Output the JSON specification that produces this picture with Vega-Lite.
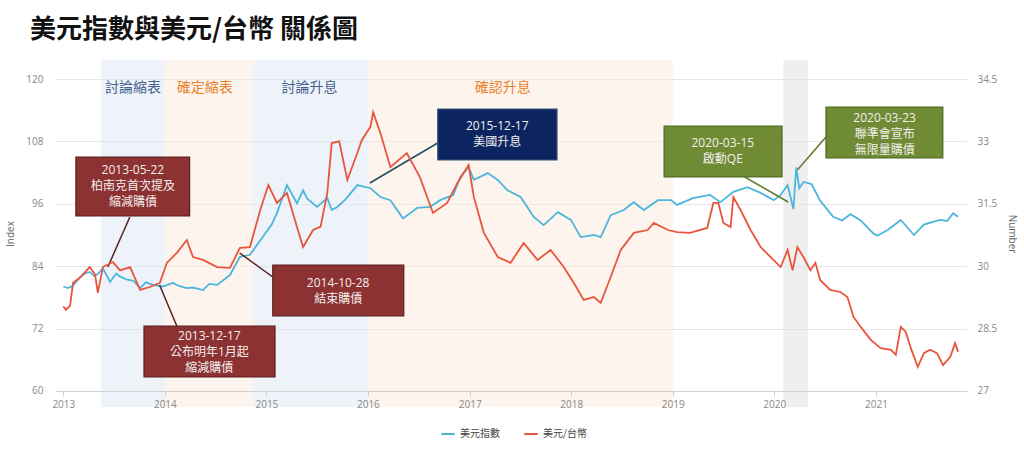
{
  "$schema": "https://vega.github.io/schema/vega-lite/v6.json",
  "autosize": {"type": "none"},
  "width": 912,
  "height": 347,
  "padding": {"left": 55, "top": 60, "right": 57, "bottom": 44},
  "background": "white",
  "title": {
    "text": "美元指數與美元/台幣 關係圖",
    "anchor": "start",
    "frame": "group",
    "dx": -25,
    "offset": 17,
    "font": "Noto Sans CJK TC",
    "fontSize": 26,
    "fontWeight": "bold",
    "color": "#111"
  },
  "config": {
    "view": {"stroke": null},
    "font": "Open Sans, Noto Sans CJK TC",
    "axis": {"labelFont": "Open Sans", "labelColor": "#888", "labelFontSize": 10, "titleFont": "Open Sans", "titleColor": "#666", "titleFontSize": 10, "titleFontWeight": "normal"}
  },
  "datasets": {
    "phases": [
      {"start": "2013-05-16", "end": "2014-01-01", "group": "討論"},
      {"start": "2014-01-01", "end": "2014-11-16", "group": "確定"},
      {"start": "2014-11-16", "end": "2016-01-01", "group": "討論"},
      {"start": "2016-01-01", "end": "2019-01-01", "group": "確定"},
      {"start": "2020-02-03", "end": "2020-05-01", "group": "疫情"}
    ],
    "phase_labels": [
      {"date": "2013-09-08", "label": "討論縮表", "group": "討論"},
      {"date": "2014-05-24", "label": "確定縮表", "group": "確定"},
      {"date": "2015-06-05", "label": "討論升息", "group": "討論"},
      {"date": "2017-04-30", "label": "確認升息", "group": "確定"}
    ],
    "events": [
      {"label": "2013-05-22\n柏南克首次提及\n縮減購債", "kind": "qe", "box_start": "2013-02-15", "box_end": "2014-03-31", "box_top": 105.0, "box_bottom": 93.65, "text_date": "2013-09-08", "text_value": 102.5, "line_date": "2013-08-28", "line_value": 93.46, "point_date": "2013-06-10", "point_value": 83.85},
      {"label": "2013-12-17\n公布明年1月起\n縮減購債", "kind": "qe", "box_start": "2013-10-18", "box_end": "2015-02-01", "box_top": 72.5, "box_bottom": 62.69, "text_date": "2014-06-10", "text_value": 70.58, "line_date": "2014-02-13", "line_value": 72.5, "point_date": "2013-12-13", "point_value": 80.38},
      {"label": "2014-10-28\n結束購債", "kind": "qe", "box_start": "2015-01-24", "box_end": "2016-05-09", "box_top": 84.23, "box_bottom": 74.42, "text_date": "2015-09-16", "text_value": 80.83, "line_date": "2015-01-24", "line_value": 81.92, "point_date": "2014-09-27", "point_value": 86.54},
      {"label": "2015-12-17\n美國升息", "kind": "hike", "box_start": "2016-09-08", "box_end": "2017-11-11", "box_top": 114.23, "box_bottom": 104.42, "text_date": "2017-04-10", "text_value": 111.0, "line_date": "2016-09-08", "line_value": 107.69, "point_date": "2016-01-08", "point_value": 100.0},
      {"label": "2020-03-15\n啟動QE", "kind": "covid", "box_start": "2018-12-01", "box_end": "2020-01-29", "box_top": 110.96, "box_bottom": 101.15, "text_date": "2019-06-30", "text_value": 107.63, "line_date": "2019-09-17", "line_value": 101.15, "point_date": "2020-02-20", "point_value": 96.35},
      {"label": "2020-03-23\n聯準會宣布\n無限量購債", "kind": "covid", "box_start": "2020-07-05", "box_end": "2021-08-29", "box_top": 114.62, "box_bottom": 104.81, "text_date": "2021-02-01", "text_value": 112.44, "line_date": "2020-07-05", "line_value": 108.85, "point_date": "2020-03-24", "point_value": 102.5}
    ],
    "dxy": [
      {"date": "2013-01-01", "value": 80.1}, {"date": "2013-01-18", "value": 79.8}, {"date": "2013-02-05", "value": 80.3},
      {"date": "2013-03-01", "value": 81.8}, {"date": "2013-03-20", "value": 82.6}, {"date": "2013-04-06", "value": 82.9},
      {"date": "2013-04-22", "value": 82.1}, {"date": "2013-05-05", "value": 82.5},
      {"date": "2013-05-23", "value": 83.6}, {"date": "2013-06-18", "value": 81.0}, {"date": "2013-07-10", "value": 82.6},
      {"date": "2013-07-24", "value": 82.0}, {"date": "2013-08-19", "value": 81.4}, {"date": "2013-09-10", "value": 81.2},
      {"date": "2013-10-04", "value": 79.8}, {"date": "2013-10-25", "value": 80.9}, {"date": "2013-11-18", "value": 80.4},
      {"date": "2013-12-24", "value": 80.1},
      {"date": "2014-01-30", "value": 80.8}, {"date": "2014-02-20", "value": 80.2}, {"date": "2014-03-21", "value": 79.8},
      {"date": "2014-04-12", "value": 79.9}, {"date": "2014-05-18", "value": 79.4}, {"date": "2014-06-10", "value": 80.6},
      {"date": "2014-07-08", "value": 80.4}, {"date": "2014-08-23", "value": 82.3},
      {"date": "2014-09-28", "value": 85.8}, {"date": "2014-11-03", "value": 86.2}, {"date": "2014-12-20", "value": 89.7},
      {"date": "2015-01-20", "value": 92.0}, {"date": "2015-02-08", "value": 94.2}, {"date": "2015-03-16", "value": 99.6},
      {"date": "2015-04-21", "value": 96.1}, {"date": "2015-05-13", "value": 98.6}, {"date": "2015-05-28", "value": 97.0},
      {"date": "2015-07-02", "value": 95.4}, {"date": "2015-08-08", "value": 97.1}, {"date": "2015-08-24", "value": 94.8},
      {"date": "2015-09-13", "value": 95.4}, {"date": "2015-10-15", "value": 97.0}, {"date": "2015-11-24", "value": 99.6},
      {"date": "2016-01-10", "value": 99.0}, {"date": "2016-02-15", "value": 97.3}, {"date": "2016-03-22", "value": 96.7},
      {"date": "2016-05-06", "value": 93.2}, {"date": "2016-06-26", "value": 95.2}, {"date": "2016-08-11", "value": 95.4},
      {"date": "2016-09-17", "value": 96.7}, {"date": "2016-11-03", "value": 97.7}, {"date": "2016-11-29", "value": 101.2},
      {"date": "2016-12-28", "value": 103.1}, {"date": "2017-01-16", "value": 100.6}, {"date": "2017-03-07", "value": 101.9},
      {"date": "2017-04-12", "value": 100.6}, {"date": "2017-05-17", "value": 98.6}, {"date": "2017-07-03", "value": 97.3},
      {"date": "2017-08-19", "value": 93.5}, {"date": "2017-09-24", "value": 91.9}, {"date": "2017-11-14", "value": 94.4},
      {"date": "2017-12-31", "value": 92.9}, {"date": "2018-02-04", "value": 89.6}, {"date": "2018-03-23", "value": 90.0},
      {"date": "2018-04-17", "value": 89.6}, {"date": "2018-05-23", "value": 93.8}, {"date": "2018-07-09", "value": 94.8},
      {"date": "2018-08-14", "value": 96.3}, {"date": "2018-09-19", "value": 94.8}, {"date": "2018-11-09", "value": 96.7},
      {"date": "2018-12-26", "value": 96.7}, {"date": "2019-01-16", "value": 95.8}, {"date": "2019-03-15", "value": 97.1},
      {"date": "2019-05-16", "value": 97.7}, {"date": "2019-06-21", "value": 96.3}, {"date": "2019-08-07", "value": 98.3},
      {"date": "2019-09-27", "value": 99.2}, {"date": "2019-11-13", "value": 98.1}, {"date": "2019-12-30", "value": 96.7},
      {"date": "2020-01-24", "value": 97.7}, {"date": "2020-02-18", "value": 99.6}, {"date": "2020-03-10", "value": 95.0},
      {"date": "2020-03-20", "value": 103.0}, {"date": "2020-03-31", "value": 99.0}, {"date": "2020-04-15", "value": 100.2},
      {"date": "2020-05-14", "value": 99.8},
      {"date": "2020-06-14", "value": 96.6}, {"date": "2020-07-31", "value": 93.5}, {"date": "2020-09-01", "value": 92.8},
      {"date": "2020-10-01", "value": 94.0}, {"date": "2020-11-07", "value": 92.8}, {"date": "2020-12-24", "value": 90.2},
      {"date": "2021-01-07", "value": 89.9}, {"date": "2021-02-13", "value": 91.0}, {"date": "2021-03-31", "value": 92.9},
      {"date": "2021-05-17", "value": 90.0}, {"date": "2021-06-22", "value": 92.0}, {"date": "2021-08-19", "value": 92.9},
      {"date": "2021-09-14", "value": 92.7}, {"date": "2021-10-05", "value": 94.2}, {"date": "2021-10-23", "value": 93.5}
    ],
    "twd": [
      {"date": "2013-01-01", "value": 29.03}, {"date": "2013-01-10", "value": 28.95}, {"date": "2013-01-25", "value": 29.05},
      {"date": "2013-02-05", "value": 29.6}, {"date": "2013-03-01", "value": 29.72}, {"date": "2013-04-06", "value": 29.98},
      {"date": "2013-04-25", "value": 29.8}, {"date": "2013-05-05", "value": 29.36}, {"date": "2013-05-23", "value": 29.98},
      {"date": "2013-06-28", "value": 30.1}, {"date": "2013-07-24", "value": 29.9}, {"date": "2013-08-29", "value": 29.98},
      {"date": "2013-10-04", "value": 29.43}, {"date": "2013-11-08", "value": 29.5}, {"date": "2013-12-14", "value": 29.6},
      {"date": "2014-01-08", "value": 30.08}, {"date": "2014-02-13", "value": 30.32}, {"date": "2014-03-21", "value": 30.63},
      {"date": "2014-04-12", "value": 30.22}, {"date": "2014-05-18", "value": 30.15}, {"date": "2014-07-08", "value": 29.98},
      {"date": "2014-08-23", "value": 29.96}, {"date": "2014-09-28", "value": 30.44}, {"date": "2014-11-03", "value": 30.46},
      {"date": "2014-12-10", "value": 31.35}, {"date": "2015-01-08", "value": 31.95}, {"date": "2015-02-08", "value": 31.52},
      {"date": "2015-03-16", "value": 31.76}, {"date": "2015-04-21", "value": 30.94}, {"date": "2015-05-13", "value": 30.46},
      {"date": "2015-06-18", "value": 30.87}, {"date": "2015-07-15", "value": 30.95}, {"date": "2015-08-08", "value": 31.76},
      {"date": "2015-08-24", "value": 32.96}, {"date": "2015-09-20", "value": 33.0}, {"date": "2015-10-19", "value": 32.07},
      {"date": "2015-11-24", "value": 32.72}, {"date": "2015-12-10", "value": 33.03}, {"date": "2016-01-10", "value": 33.35},
      {"date": "2016-01-20", "value": 33.7}, {"date": "2016-02-15", "value": 33.2}, {"date": "2016-03-22", "value": 32.38},
      {"date": "2016-05-20", "value": 32.72}, {"date": "2016-07-06", "value": 32.14}, {"date": "2016-08-22", "value": 31.28},
      {"date": "2016-10-12", "value": 31.52}, {"date": "2016-11-18", "value": 32.0}, {"date": "2016-12-28", "value": 32.43},
      {"date": "2017-01-16", "value": 31.66}, {"date": "2017-02-21", "value": 30.8}, {"date": "2017-04-12", "value": 30.22},
      {"date": "2017-05-28", "value": 30.08}, {"date": "2017-07-14", "value": 30.56}, {"date": "2017-09-02", "value": 30.15},
      {"date": "2017-10-19", "value": 30.39}, {"date": "2017-12-05", "value": 29.98}, {"date": "2018-01-10", "value": 29.6},
      {"date": "2018-02-15", "value": 29.19}, {"date": "2018-03-23", "value": 29.26}, {"date": "2018-04-17", "value": 29.12},
      {"date": "2018-05-23", "value": 29.74}, {"date": "2018-06-28", "value": 30.39}, {"date": "2018-08-14", "value": 30.8},
      {"date": "2018-10-03", "value": 30.87}, {"date": "2018-10-25", "value": 31.04}, {"date": "2018-12-15", "value": 30.87},
      {"date": "2019-01-16", "value": 30.82}, {"date": "2019-03-04", "value": 30.8}, {"date": "2019-05-05", "value": 30.92},
      {"date": "2019-05-27", "value": 31.52}, {"date": "2019-06-14", "value": 31.52}, {"date": "2019-07-02", "value": 31.04},
      {"date": "2019-07-28", "value": 30.94}, {"date": "2019-08-07", "value": 31.66}, {"date": "2019-09-02", "value": 31.35},
      {"date": "2019-10-08", "value": 30.87}, {"date": "2019-11-13", "value": 30.46}, {"date": "2019-12-19", "value": 30.22},
      {"date": "2020-01-24", "value": 29.98}, {"date": "2020-02-18", "value": 30.39}, {"date": "2020-03-07", "value": 29.9},
      {"date": "2020-03-24", "value": 30.46}, {"date": "2020-04-15", "value": 30.22}, {"date": "2020-05-10", "value": 29.9},
      {"date": "2020-05-28", "value": 30.08}, {"date": "2020-06-14", "value": 29.67}, {"date": "2020-07-20", "value": 29.43},
      {"date": "2020-08-26", "value": 29.38}, {"date": "2020-09-20", "value": 29.26}, {"date": "2020-10-12", "value": 28.78},
      {"date": "2020-11-07", "value": 28.54}, {"date": "2020-12-13", "value": 28.23}, {"date": "2021-01-18", "value": 28.03},
      {"date": "2021-02-24", "value": 27.99}, {"date": "2021-03-13", "value": 27.87}, {"date": "2021-03-31", "value": 28.54},
      {"date": "2021-04-18", "value": 28.42}, {"date": "2021-05-06", "value": 28.03}, {"date": "2021-05-31", "value": 27.58},
      {"date": "2021-06-22", "value": 27.91}, {"date": "2021-07-14", "value": 27.99}, {"date": "2021-08-08", "value": 27.91},
      {"date": "2021-08-30", "value": 27.62}, {"date": "2021-09-25", "value": 27.82}, {"date": "2021-10-12", "value": 28.15},
      {"date": "2021-10-23", "value": 27.94}
    ]
  },
  "layer": [
    {
      "layer": [
        {
          "data": {"name": "phases"},
          "mark": {"type": "rect", "opacity": 0.5},
          "encoding": {
            "x": {
              "field": "start", "type": "temporal", "title": null,
              "scale": {"domain": [{"year": 2012, "month": 12, "date": 2}, {"year": 2021, "month": 11, "date": 24}]},
              "axis": {"format": "%Y", "tickCount": {"interval": "year"}, "grid": false, "domain": true, "domainColor": "#d0d0d0", "ticks": true, "tickColor": "#d0d0d0", "tickSize": 5, "labelPadding": 3, "offset": -16, "zindex": 1}
            },
            "x2": {"field": "end"},
            "color": {
              "condition": [
                {"test": "datum.group === '討論'", "value": "#dce7f3"},
                {"test": "datum.group === '確定'", "value": "#fbeadb"}
              ],
              "value": "#dfdfdf"
            }
          }
        },
        {
          "data": {"name": "phase_labels"},
          "mark": {"type": "text", "font": "Noto Sans CJK TC", "fontSize": 14, "align": "center", "baseline": "middle"},
          "encoding": {
            "x": {"field": "date", "type": "temporal", "title": null},
            "y": {"datum": 118.3, "type": "quantitative"},
            "text": {"field": "label"},
            "color": {"condition": {"test": "datum.group === '討論'", "value": "#46618f"}, "value": "#e9822e"}
          }
        },
        {
          "data": {"name": "dxy"},
          "mark": {"type": "line", "strokeWidth": 1.8},
          "encoding": {
            "x": {"field": "date", "type": "temporal", "title": null},
            "y": {
              "field": "value", "type": "quantitative",
              "scale": {"domain": [56.923, 123.654], "nice": false, "zero": false},
              "axis": {"title": "Index", "values": [60, 72, 84, 96, 108, 120], "grid": true, "gridColor": "#e6e6e6", "domain": false, "ticks": false, "labelPadding": 12, "titlePadding": 10}
            },
            "color": {
              "datum": "美元指數",
              "scale": {"domain": ["美元指數", "美元/台幣"], "range": ["#4cb6dc", "#e8553c"]},
              "legend": {"orient": "none", "legendX": 385, "legendY": 366, "direction": "horizontal", "title": null, "symbolType": "stroke", "symbolStrokeWidth": 2, "symbolSize": 180, "labelFont": "Noto Sans CJK TC", "labelFontSize": 10, "labelColor": "#444", "columnPadding": 20}
            }
          }
        },
        {
          "data": {"name": "events"},
          "mark": {"type": "rule", "strokeWidth": 1.5},
          "encoding": {
            "x": {"field": "line_date", "type": "temporal", "title": null},
            "x2": {"field": "point_date"},
            "y": {"field": "line_value", "type": "quantitative", "title": "Index"},
            "y2": {"field": "point_value"},
            "color": {
              "condition": [
                {"test": "datum.kind === 'qe'", "value": "#5a1f1f"},
                {"test": "datum.kind === 'hike'", "value": "#1f4e5f"}
              ],
              "value": "#5b7a2a"
            }
          }
        },
        {
          "data": {"name": "events"},
          "mark": {"type": "rect", "strokeWidth": 1.2},
          "encoding": {
            "x": {"field": "box_start", "type": "temporal", "title": null},
            "x2": {"field": "box_end"},
            "y": {"field": "box_top", "type": "quantitative", "title": "Index"},
            "y2": {"field": "box_bottom"},
            "fill": {
              "condition": [
                {"test": "datum.kind === 'qe'", "value": "#8c3232"},
                {"test": "datum.kind === 'hike'", "value": "#0c2560"}
              ],
              "value": "#6f8c35"
            },
            "stroke": {
              "condition": [
                {"test": "datum.kind === 'qe'", "value": "#5a1f1f"},
                {"test": "datum.kind === 'hike'", "value": "#3a5a70"}
              ],
              "value": "#4d6422"
            }
          }
        },
        {
          "data": {"name": "events"},
          "mark": {"type": "text", "font": "Open Sans, Noto Sans CJK TC", "fontSize": 12, "lineHeight": 16, "lineBreak": "\n", "align": "center", "baseline": "middle", "color": "#f4eeee"},
          "encoding": {
            "x": {"field": "text_date", "type": "temporal", "title": null},
            "y": {"field": "text_value", "type": "quantitative", "title": "Index"},
            "text": {"field": "label"}
          }
        }
      ]
    },
    {
      "data": {"name": "twd"},
      "mark": {"type": "line", "strokeWidth": 1.8},
      "encoding": {
        "x": {"field": "date", "type": "temporal", "title": null},
        "y": {
          "field": "value", "type": "quantitative",
          "scale": {"domain": [26.615, 34.957], "nice": false, "zero": false},
          "axis": {"orient": "right", "title": "Number", "values": [27, 28.5, 30, 31.5, 33, 34.5], "format": ".1~f", "grid": false, "domain": false, "ticks": false, "labelPadding": 10, "titlePadding": 10}
        },
        "color": {"datum": "美元/台幣"}
      }
    }
  ],
  "resolve": {"scale": {"y": "independent"}}
}
